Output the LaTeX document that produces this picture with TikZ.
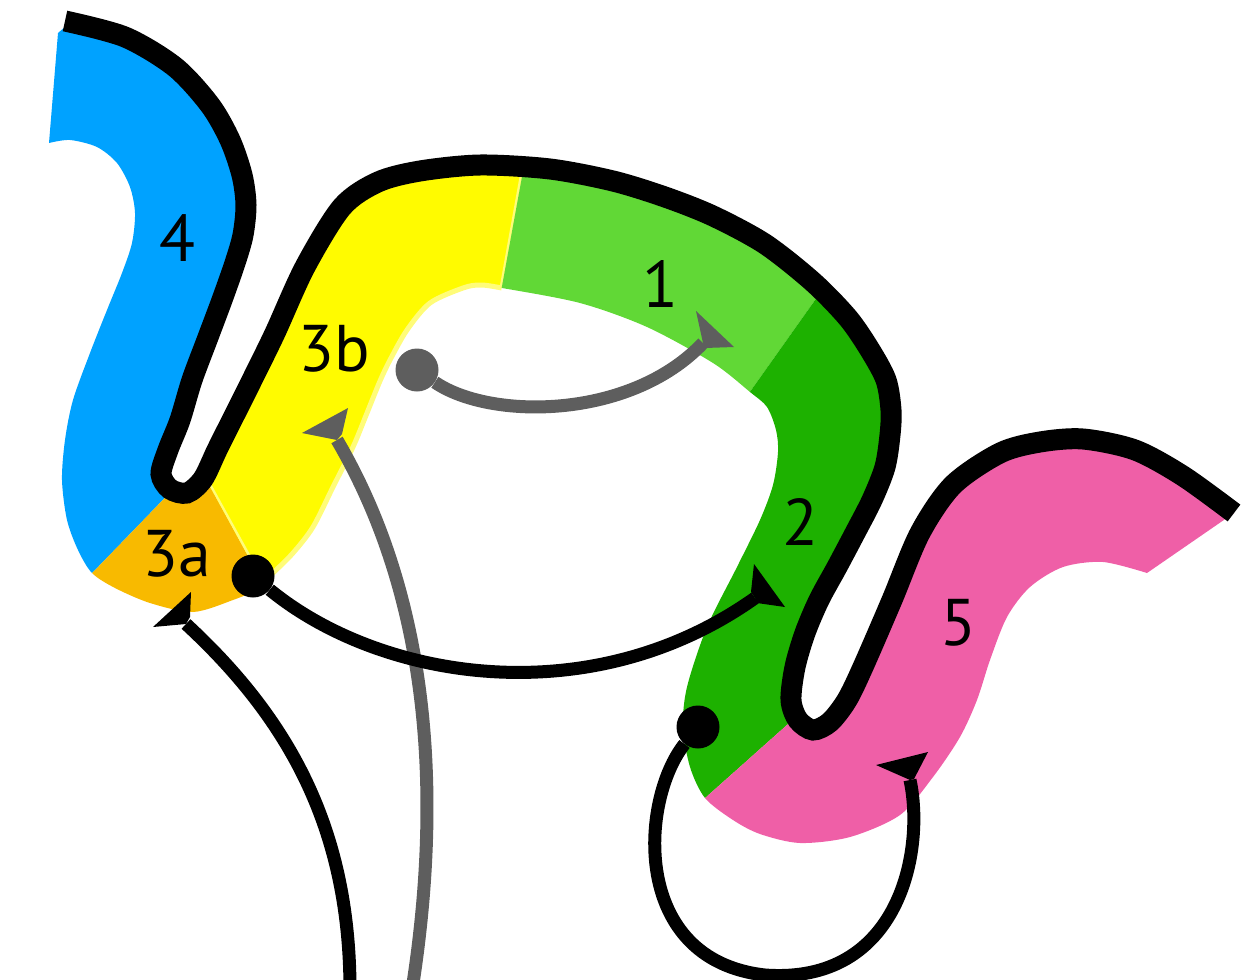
\documentclass[tikz,border=0pt]{standalone}
\usepackage{fontspec}
\setmainfont{PT Sans}
\definecolor{band4}{HTML}{00A2FF}
\definecolor{band3a}{HTML}{F8BA00}
\definecolor{band3b}{HTML}{FFFB00}
\definecolor{band3bedge}{HTML}{FFFC79}
\definecolor{band1}{HTML}{61D836}
\definecolor{band2}{HTML}{1DB100}
\definecolor{band5}{HTML}{EF5FA7}
\definecolor{arrgray}{HTML}{5E5E5E}
\begin{document}
\begin{tikzpicture}[x=1pt, y=-1pt, dot/.style={circle, inner sep=0pt, minimum size=43pt}, lbl/.style={font=\fontsize{66}{66}\selectfont, inner sep=0pt}, conn/.style={line width=13pt}]
\useasboundingbox (0,0) rectangle (1251,980);
% whole ribbon: outer edge under the black line, inner edge back
\path[save path=\band] (58,33) -- plot[smooth] coordinates {(66,26) (125,38) (175,67) (210,105) (230,140) (242,175) (246,205) (243,235) (235,263) (222,300) (207,340) (192,380) (180,420) (168,450) (161,474) (170,489) (187,493) (203,479) (217,450) (232,420) (252,380) (275,333) (305,267) (342,207) (378,182) (420,171) (480,165) (550,169) (613,181) (665,197) (713,216) (765,244) (813,282) (848,318) (870,350) (886,380) (891,410) (890,435) (885,467) (872,500) (855,533) (837,567) (819,600) (805,633) (795,667) (791,700) (798,720) (813,730) (830,722) (847,700) (863,667) (892,600) (920,533) (953,485) (1000,453) (1040,442) (1083,439) (1135,450) (1183,476) (1234,513)}
  -- plot[smooth] coordinates {(1147,573) (1103,562) (1063,567) (1030,587) (1007,617) (990,660) (977,700) (960,737) (933,777) (900,815) (850,837) (800,843) (760,834) (733,820) (705,798) (690,767) (683,727) (687,687) (707,627) (737,567) (760,520) (773,485) (778,452) (776,430) (767,407) (750,392) (713,363) (647,327) (580,303) (502,288) (480,285) (463,288) (430,303) (407,330) (390,360) (380,381) (367,413) (353,447) (333,487) (313,527) (293,553) (273,573) (255,590) (233,600) (193,612) (150,603) (115,588) (92,573) (78,550) (67,520) (62,480) (65,440) (73,400) (90,353) (107,310) (122,273) (132,243) (135,213) (130,187) (117,163) (97,147) (70,140) (49,143)} -- cycle;
\begin{scope}
  \clip (0,0) -- (240,0) -- (262,200) -- (255,300) -- (222,380) -- (187,475) -- (40,627) -- (0,627) -- cycle;
  \fill[band4, use path=\band];
\end{scope}
\begin{scope}
  \clip (40,627) -- (187,475) -- (201,470) -- (282,618) -- (282,700) -- (40,700) -- cycle;
  \fill[band3a, use path=\band];
\end{scope}
\begin{scope}
  \clip (201,470) -- (222,380) -- (255,300) -- (262,200) -- (262,100) -- (536,100) -- (494,330) -- (480,640) -- (295,640) -- (282,618) -- cycle;
  \fill[band3b, use path=\band];
  \draw[band3bedge, line width=5pt, use path=\band];
  \draw[band3bedge, line width=5pt] (205,478) -- (248,556) (524,166) -- (502,288);
\end{scope}
\begin{scope}
  \clip (536,100) -- (886,200) -- (730,420) -- (494,330) -- cycle;
  \fill[band1, use path=\band];
\end{scope}
\begin{scope}
  \clip (886,200) -- (730,420) -- (600,420) -- (600,900) -- (649,848) -- (815,700) -- (828,667) -- (855,600) -- (888,533) -- (916,483) -- (940,440) -- (950,200) -- cycle;
  \fill[band2, use path=\band];
\end{scope}
\begin{scope}
  \clip (649,848) -- (815,700) -- (828,667) -- (855,600) -- (888,533) -- (916,483) -- (940,440) -- (950,200) -- (1251,200) -- (1251,980) -- (600,980) -- cycle;
  \fill[band5, use path=\band];
\end{scope}
\draw[line width=21pt] plot[smooth] coordinates {(65,21) (125,37) (175,67) (210,105) (230,140) (242,175) (246,205) (243,235) (235,263) (222,300) (207,340) (192,380) (180,420) (168,450) (161,474) (170,489) (187,493) (203,479) (217,450) (232,420) (252,380) (275,333) (305,267) (342,207) (378,182) (420,171) (480,165) (550,169) (613,181) (665,197) (713,216) (765,244) (813,282) (848,318) (870,350) (886,380) (891,410) (890,435) (885,467) (872,500) (855,533) (837,567) (819,600) (805,633) (795,667) (791,700) (798,720) (813,730) (830,722) (847,700) (863,667) (892,600) (920,533) (953,485) (1000,453) (1040,442) (1083,439) (1135,450) (1183,476) (1234,513)};
% labels
\node[lbl] (l4) at (177,238) {4}; \node[lbl] (l3b) at (334,349) {3b}; \node[lbl] (l3a) at (177,554) {3a};
\node[lbl] (l1) at (660,284) {1}; \node[lbl] (l2) at (800,522) {2}; \node[lbl] (l5) at (958,623) {5};
% dots and ends
\node[dot, fill=arrgray] (dotG) at (417,370) {}; \node[dot, fill=black] (dotA) at (253,576) {}; \node[dot, fill=black] (dotB) at (698,727) {};
\coordinate (g1end) at (703,343); \coordinate (g2start) at (412,990); \coordinate (g2end) at (337,440);
\coordinate (b1start) at (350,990); \coordinate (b1end) at (186,624); \coordinate (b2end) at (755,598);
\coordinate (b3mid) at (765,975); \coordinate (b3end) at (910,780);
\draw[conn, arrgray] (dotG) .. controls (490,420) and (630,420) .. (g1end);
\draw[conn, arrgray] (g2start) .. controls (445,780) and (425,590) .. (g2end);
\draw[conn] (b1start) .. controls (350,830) and (290,720) .. (b1end);
\draw[conn] (dotA) .. controls (380,680) and (590,715) .. (b2end);
\draw[conn] (dotB) .. controls (640,800) and (630,960) .. (b3mid) .. controls (900,985) and (925,850) .. (b3end);
\fill[arrgray] (g1end) -- (696,311) -- (734,347) -- (705,348) -- cycle;% Arrow
\fill[arrgray] (g2end) -- (302,433) -- (348,408) -- (342,434) -- cycle;% Arrow
\fill (b1end) -- (153,627) -- (191,592) -- (190,617) -- cycle;% Arrow
\fill (b2end) -- (751,592) -- (754,564) -- (785,607) -- (757,603) -- cycle;% Arrow
\fill (b3end) -- (876,765) -- (928,752) -- (914,779) -- cycle;% Arrow
\end{tikzpicture}
\end{document}
